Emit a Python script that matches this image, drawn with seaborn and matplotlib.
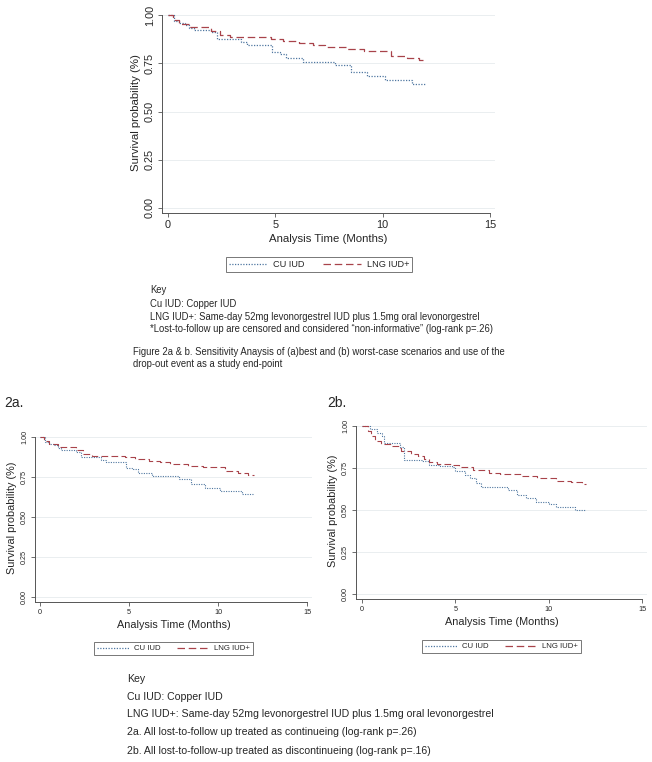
import matplotlib
matplotlib.use("Agg")
import matplotlib.pyplot as plt
import numpy as np
import pandas as pd
import seaborn as sns

sns.set_theme(style="white")
plt.rcParams['font.family'] = ['Liberation Sans', 'DejaVu Sans']

# Kaplan-Meier step values (time in months, survival)
cu_time = [0, 0.3, 0.5, 0.8, 1.0, 1.2, 2.0, 2.3, 3.4, 3.7, 4.85, 5.2, 5.5, 6.3, 7.8, 8.5, 9.25, 10.1, 11.35, 12.0]
cu_surv = [1.00, 0.97, 0.96, 0.95, 0.935, 0.922, 0.91, 0.874, 0.86, 0.843, 0.81, 0.80, 0.775, 0.756, 0.739, 0.705, 0.682, 0.661, 0.642, 0.642]
lng_time = [0, 0.25, 0.5, 1.0, 2.0, 2.4, 2.9, 4.8, 5.35, 6.1, 6.75, 7.3, 8.3, 9.15, 10.4, 11.15, 11.7, 12.0]
lng_surv = [1.00, 0.975, 0.955, 0.936, 0.92, 0.896, 0.884, 0.874, 0.864, 0.854, 0.843, 0.832, 0.822, 0.812, 0.787, 0.777, 0.765, 0.765]

# 2b: lost-to-follow-up treated as discontinuing
cu_time_b = [0, 0.45, 0.8, 1.07, 1.2, 2.05, 2.26, 3.2, 3.6, 4.2, 4.8, 5.0, 5.5, 5.8, 6.1, 6.4, 7.84, 8.3, 8.8, 9.3, 10.0, 10.4, 11.4, 12.0]
cu_surv_b = [1.00, 0.98, 0.96, 0.94, 0.90, 0.875, 0.80, 0.79, 0.77, 0.76, 0.757, 0.73, 0.71, 0.688, 0.66, 0.638, 0.62, 0.589, 0.569, 0.549, 0.535, 0.516, 0.50, 0.50]
lng_time_b = [0, 0.3, 0.48, 0.7, 1.0, 1.6, 2.0, 2.1, 2.6, 3.0, 3.3, 3.6, 4.0, 4.8, 5.2, 5.97, 6.8, 7.4, 8.5, 9.4, 10.4, 11.2, 11.8, 12.0]
lng_surv_b = [1.00, 0.97, 0.943, 0.91, 0.89, 0.88, 0.87, 0.85, 0.835, 0.82, 0.806, 0.787, 0.773, 0.767, 0.757, 0.737, 0.723, 0.715, 0.704, 0.688, 0.674, 0.665, 0.654, 0.654]

groups = ['CU IUD', 'LNG IUD+']
colors = {'CU IUD': '#4f77a0', 'LNG IUD+': '#a8434a'}
dashes = {'CU IUD': (1, 1.2), 'LNG IUD+': (6, 3)}
yticks = [0, 0.25, 0.5, 0.75, 1.0]
xticks = [0, 5, 10, 15]


def km_frame(t_cu, s_cu, t_lng, s_lng):
    a = pd.DataFrame({'time': t_cu, 'surv': s_cu, 'group': 'CU IUD'})
    b = pd.DataFrame({'time': t_lng, 'surv': s_lng, 'group': 'LNG IUD+'})
    return pd.concat([a, b], ignore_index=True)


def km_panel(fig, rect, df, xlim, ylim, tick_fs, label_fs, lw):
    ax = fig.add_axes(rect)
    sns.lineplot(data=df, x='time', y='surv', hue='group', style='group',
                 hue_order=groups, style_order=groups, palette=colors, dashes=dashes,
                 estimator=None, sort=False, drawstyle='steps-post', linewidth=lw,
                 legend=False, ax=ax)
    ax.set_xlim(*xlim)
    ax.set_ylim(*ylim)
    ax.set_xticks(xticks)
    ax.set_yticks(yticks)
    ax.set_yticklabels(['0.00', '0.25', '0.50', '0.75', '1.00'], rotation=90, va='center')
    ax.tick_params(axis='both', labelsize=tick_fs, length=3, width=0.6, color='#555555',
                   pad=2, left=True, bottom=True)
    ax.grid(axis='y', color='#eaeef0', linewidth=0.7)
    ax.grid(axis='x', visible=False)
    for s in ['top', 'right']:
        ax.spines[s].set_visible(False)
    for s in ['left', 'bottom']:
        ax.spines[s].set_color('#555555')
        ax.spines[s].set_linewidth(0.7)
    ax.spines['left'].set_bounds(ylim[0], 1.0)
    ax.spines['bottom'].set_bounds(xlim[0], 15)
    ax.set_xlabel('Analysis Time (Months)', fontsize=label_fs, labelpad=3)
    ax.set_ylabel('Survival probability (%)', fontsize=label_fs, labelpad=3)
    return ax


def add_legend(fig, center, fs, handlelen):
    handles = [plt.Line2D([], [], color=colors[g], dashes=dashes[g], linewidth=0.9) for g in groups]
    leg = fig.legend(handles, groups, loc='center', bbox_to_anchor=center, ncol=2,
                     fontsize=fs, frameon=True, fancybox=False, edgecolor='#555555',
                     handlelength=handlelen, columnspacing=2.0, handletextpad=0.6,
                     borderpad=0.35)
    leg.get_frame().set_linewidth(0.7)


df_a = km_frame(cu_time, cu_surv, lng_time, lng_surv)
df_b = km_frame(cu_time_b, cu_surv_b, lng_time_b, lng_surv_b)

W, H = 652, 762
fig = plt.figure(figsize=(W / 100, H / 100), dpi=100)
fig.patch.set_facecolor('white')


def rect(l, t, r, b):
    return [l / W, 1 - b / H, (r - l) / W, (b - t) / H]


# top panel
km_panel(fig, rect(162, 12, 495, 213), df_a, (-0.28, 15.23), (-0.026, 1.016), 7.8, 8.2, 0.9)
add_legend(fig, (319 / W, 1 - 264.5 / H), 6.6, 4.2)

fs_key = 6.85
fig.text(150 / W, 1 - 290 / H, 'Key', fontsize=fs_key, va='center')
fig.text(150 / W, 1 - 304 / H, 'Cu IUD: Copper IUD', fontsize=fs_key, va='center')
fig.text(150 / W, 1 - 317 / H, 'LNG IUD+: Same-day 52mg levonorgestrel IUD plus 1.5mg oral levonorgestrel',
         fontsize=fs_key, va='center')
fig.text(150 / W, 1 - 329 / H, '*Lost-to-follow up are censored and considered \u201cnon-informative\u201d (log-rank p=.26)',
         fontsize=fs_key, va='center')
fig.text(133 / W, 1 - 352 / H, 'Figure 2a & b. Sensitivity Anaysis of (a)best and (b) worst-case scenarios and use of the',
         fontsize=fs_key, va='center')
fig.text(133 / W, 1 - 364 / H, 'drop-out event as a study end-point', fontsize=fs_key, va='center')

# bottom panels
fig.text(4 / W, 1 - 403 / H, '2a.', fontsize=10, va='center')
fig.text(327 / W, 1 - 403 / H, '2b.', fontsize=10, va='center')
km_panel(fig, rect(35, 434, 312, 602), df_a, (-0.28, 15.28), (-0.031, 1.02), 5.2, 7.8, 0.8)
km_panel(fig, rect(356, 423, 647, 599), df_b, (-0.32, 15.27), (-0.03, 1.018), 5.2, 7.8, 0.8)
add_legend(fig, (173.5 / W, 1 - 648.5 / H), 5.6, 4.2)
add_legend(fig, (501.5 / W, 1 - 646.5 / H), 5.6, 4.2)

fs_key2 = 7.55
fig.text(127 / W, 1 - 679 / H, 'Key', fontsize=fs_key2, va='center')
fig.text(127 / W, 1 - 697 / H, 'Cu IUD: Copper IUD', fontsize=fs_key2, va='center')
fig.text(127 / W, 1 - 714 / H, 'LNG IUD+: Same-day 52mg levonorgestrel IUD plus 1.5mg oral levonorgestrel',
         fontsize=fs_key2, va='center')
fig.text(127 / W, 1 - 732 / H, '2a. All lost-to-follow up treated as continueing (log-rank p=.26)',
         fontsize=fs_key2, va='center')
fig.text(127 / W, 1 - 751 / H, '2b. All lost-to-follow-up treated as discontinueing (log-rank p=.16)',
         fontsize=fs_key2, va='center')

fig.savefig('out.png', dpi=100, facecolor='white')
